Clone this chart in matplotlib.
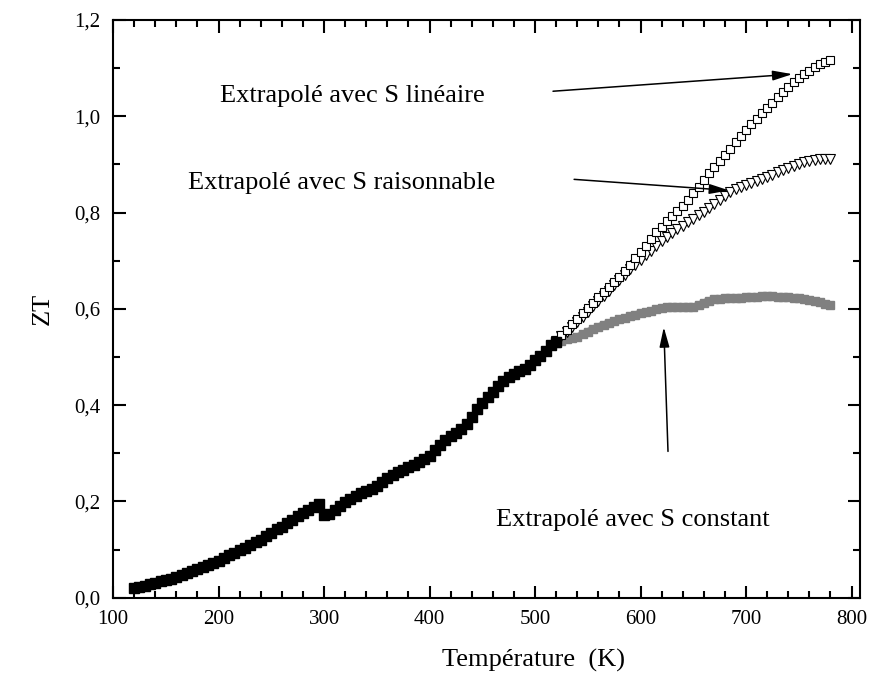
import matplotlib
matplotlib.use('Agg')
import matplotlib.pyplot as plt
from matplotlib.ticker import MultipleLocator

plt.rcParams['font.family'] = ['Liberation Serif', 'DejaVu Serif']

# measured ZT (black squares)
T_meas = [120, 125, 130, 135, 140, 145, 150, 155, 160, 165, 170, 175, 180, 185, 190, 195,
          200, 205, 210, 215, 220, 225, 230, 235, 240, 245, 250, 255, 260, 265, 270, 275,
          280, 285, 290, 295, 300, 305, 310, 315, 320, 325, 330, 335, 340, 345, 350, 355,
          360, 365, 370, 375, 380, 385, 390, 395, 400, 405, 410, 415, 420, 425, 430, 435,
          440, 445, 450, 455, 460, 465, 470, 475, 480, 485, 490, 495, 500, 505, 510, 515, 520]
ZT_meas = [0.020, 0.022, 0.025, 0.028, 0.031, 0.034, 0.037, 0.040, 0.044, 0.048, 0.052, 0.056,
           0.060, 0.064, 0.068, 0.073, 0.077, 0.082, 0.088, 0.094, 0.099, 0.104, 0.110, 0.116,
           0.121, 0.128, 0.135, 0.142, 0.148, 0.155, 0.162, 0.169, 0.176, 0.183, 0.189, 0.194,
           0.172, 0.174, 0.182, 0.190, 0.198, 0.205, 0.212, 0.217, 0.221, 0.226, 0.233, 0.240,
           0.248, 0.255, 0.261, 0.266, 0.271, 0.276, 0.281, 0.288, 0.295, 0.306, 0.318, 0.327,
           0.335, 0.342, 0.350, 0.361, 0.375, 0.392, 0.405, 0.416, 0.428, 0.440, 0.450, 0.458,
           0.465, 0.470, 0.476, 0.483, 0.494, 0.503, 0.513, 0.524, 0.532]

# extrapolations
T_ext = [520, 525, 530, 535, 540, 545, 550, 555, 560, 565, 570, 575, 580, 585, 590, 595,
         600, 605, 610, 615, 620, 625, 630, 635, 640, 645, 650, 655, 660, 665, 670, 675,
         680, 685, 690, 695, 700, 705, 710, 715, 720, 725, 730, 735, 740, 745, 750, 755,
         760, 765, 770, 775, 780]
ZT_lin = [0.535, 0.546, 0.557, 0.568, 0.580, 0.591, 0.602, 0.613, 0.624, 0.635, 0.645, 0.656,
          0.667, 0.679, 0.692, 0.705, 0.718, 0.731, 0.745, 0.759, 0.771, 0.782, 0.793, 0.804,
          0.814, 0.826, 0.840, 0.853, 0.867, 0.882, 0.895, 0.907, 0.920, 0.933, 0.946, 0.959,
          0.972, 0.984, 0.995, 1.006, 1.017, 1.028, 1.039, 1.050, 1.061, 1.071, 1.080, 1.088,
          1.095, 1.102, 1.108, 1.113, 1.117]
ZT_rais = [0.533, 0.543, 0.552, 0.562, 0.573, 0.584, 0.594, 0.605, 0.616, 0.627, 0.638, 0.649,
           0.660, 0.671, 0.682, 0.692, 0.702, 0.712, 0.721, 0.731, 0.740, 0.749, 0.757, 0.765,
           0.773, 0.780, 0.787, 0.794, 0.801, 0.810, 0.818, 0.826, 0.834, 0.842, 0.848, 0.853,
           0.857, 0.862, 0.866, 0.870, 0.874, 0.879, 0.884, 0.888, 0.892, 0.896, 0.900, 0.905,
           0.908, 0.910, 0.911, 0.912, 0.912]
ZT_const = [0.530, 0.534, 0.537, 0.540, 0.542, 0.547, 0.553, 0.558, 0.563, 0.567, 0.571, 0.574,
            0.578, 0.581, 0.585, 0.588, 0.591, 0.594, 0.596, 0.599, 0.602, 0.603, 0.604, 0.604,
            0.603, 0.603, 0.604, 0.608, 0.613, 0.617, 0.620, 0.621, 0.622, 0.622, 0.623, 0.623,
            0.624, 0.624, 0.625, 0.626, 0.626, 0.626, 0.625, 0.624, 0.624, 0.623, 0.622, 0.621,
            0.619, 0.617, 0.614, 0.611, 0.608]

y_ticks = [0.0, 0.2, 0.4, 0.6, 0.8, 1.0, 1.2]
y_ticklabels = ['0,0', '0,2', '0,4', '0,6', '0,8', '1,0', '1,2']
x_ticks = [100, 200, 300, 400, 500, 600, 700, 800]

fig = plt.figure(figsize=(8.7, 6.77), dpi=100)
ax = fig.add_axes([0.130, 0.117, 0.8585, 0.8535])

ax.plot(T_ext, ZT_const, color='#808080', lw=5, marker='s', ms=6,
        mec='#808080', mfc='#808080')
ax.plot(T_ext, ZT_rais, ls='none', marker='v', ms=7.5, mfc='white', mec='black', mew=0.8)
ax.plot(T_ext, ZT_lin, ls='none', marker='s', ms=5.5, mfc='white', mec='black', mew=0.8)
ax.plot(T_meas, ZT_meas, ls='none', marker='s', ms=6.5, mfc='black', mec='black')

ax.set_xlim(100, 808)
ax.set_ylim(0, 1.2)
ax.set_xticks(x_ticks)
ax.set_yticks(y_ticks)
ax.set_yticklabels(y_ticklabels)
ax.xaxis.set_minor_locator(MultipleLocator(20))
ax.yaxis.set_minor_locator(MultipleLocator(0.1))
ax.tick_params(which='both', direction='in', top=True, right=True, width=1.5, labelsize=15)
ax.tick_params(which='major', length=9, pad=9)
ax.tick_params(which='minor', length=5)
for s in ax.spines.values():
    s.set_linewidth(1.5)

fig.text(533 / 870, 1 - 667 / 677, 'Température  (K)', fontsize=19, ha='center', va='baseline')
fig.text(43 / 870, 1 - 309 / 677, 'ZT', fontsize=19, rotation=90, ha='center', va='center')

arrow = dict(arrowstyle='-|>,head_length=1.0,head_width=0.25', color='black', lw=1.1,
             mutation_scale=12, shrinkA=0, shrinkB=0)
ax.text(201, 1.029, 'Extrapolé avec S linéaire', fontsize=19, ha='left', va='baseline')
ax.annotate('', xy=(744, 1.0875), xytext=(517, 1.052), arrowprops=arrow)
ax.text(171, 0.848, 'Extrapolé avec S raisonnable', fontsize=19, ha='left', va='baseline')
ax.annotate('', xy=(684, 0.846), xytext=(537, 0.869), arrowprops=arrow)
ax.text(463, 0.1485, 'Extrapolé avec S constant', fontsize=19, ha='left', va='baseline')
ax.annotate('', xy=(622, 0.562), xytext=(626, 0.304), arrowprops=arrow)

fig.savefig('out.png', dpi=100)
